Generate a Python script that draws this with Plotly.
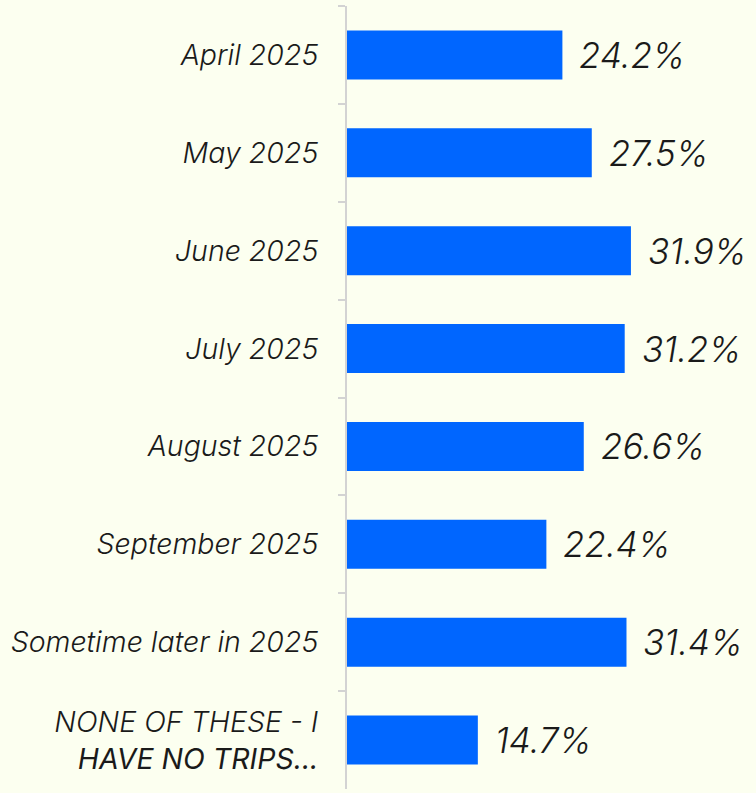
import plotly.graph_objects as go

categories = ["April 2025", "May 2025", "June 2025", "July 2025", "August 2025",
              "September 2025", "Sometime later in 2025",
              "NONE OF THESE - I<br><span style=\"font-weight:400\">HAVE NO TRIPS...</span>"]
values = [24.2, 27.5, 31.9, 31.2, 26.6, 22.4, 31.4, 14.7]
value_labels = ["24.2%", "27.5%", "31.9%", "31.2%", "26.6%", "22.4%", "31.4%", "14.7%"]

FONT = "Inter"
fig = go.Figure(go.Bar(
    x=values, y=categories, orientation="h",
    marker=dict(color="#0066FF", line=dict(width=0)),
    width=0.5,
))

for c, v, t in zip(categories, values, value_labels):
    fig.add_annotation(x=v, y=c, text=t, showarrow=False,
                       xanchor="left", yanchor="middle", xshift=15,
                       font=dict(family=FONT, size=35, color="#1a1a1a",
                                 style="italic", weight=300))

fig.update_layout(
    width=756, height=793,
    margin=dict(l=347, r=0, t=6, b=4),
    paper_bgcolor="#FCFFF0", plot_bgcolor="#FCFFF0",
    showlegend=False,
    bargap=0.5,
    xaxis=dict(range=[0, 45.95], visible=False, fixedrange=True),
    yaxis=dict(autorange="reversed", showline=True, linecolor="#D3D3D3", linewidth=2,
               ticks="outside", tickson="boundaries", ticklen=7, tickcolor="#D3D3D3",
               tickwidth=2, ticklabelstandoff=21,
               tickfont=dict(family=FONT, size=28.5, color="#1a1a1a",
                             style="italic", weight=300),
               showgrid=False),
)
fig.write_html("out.html")
